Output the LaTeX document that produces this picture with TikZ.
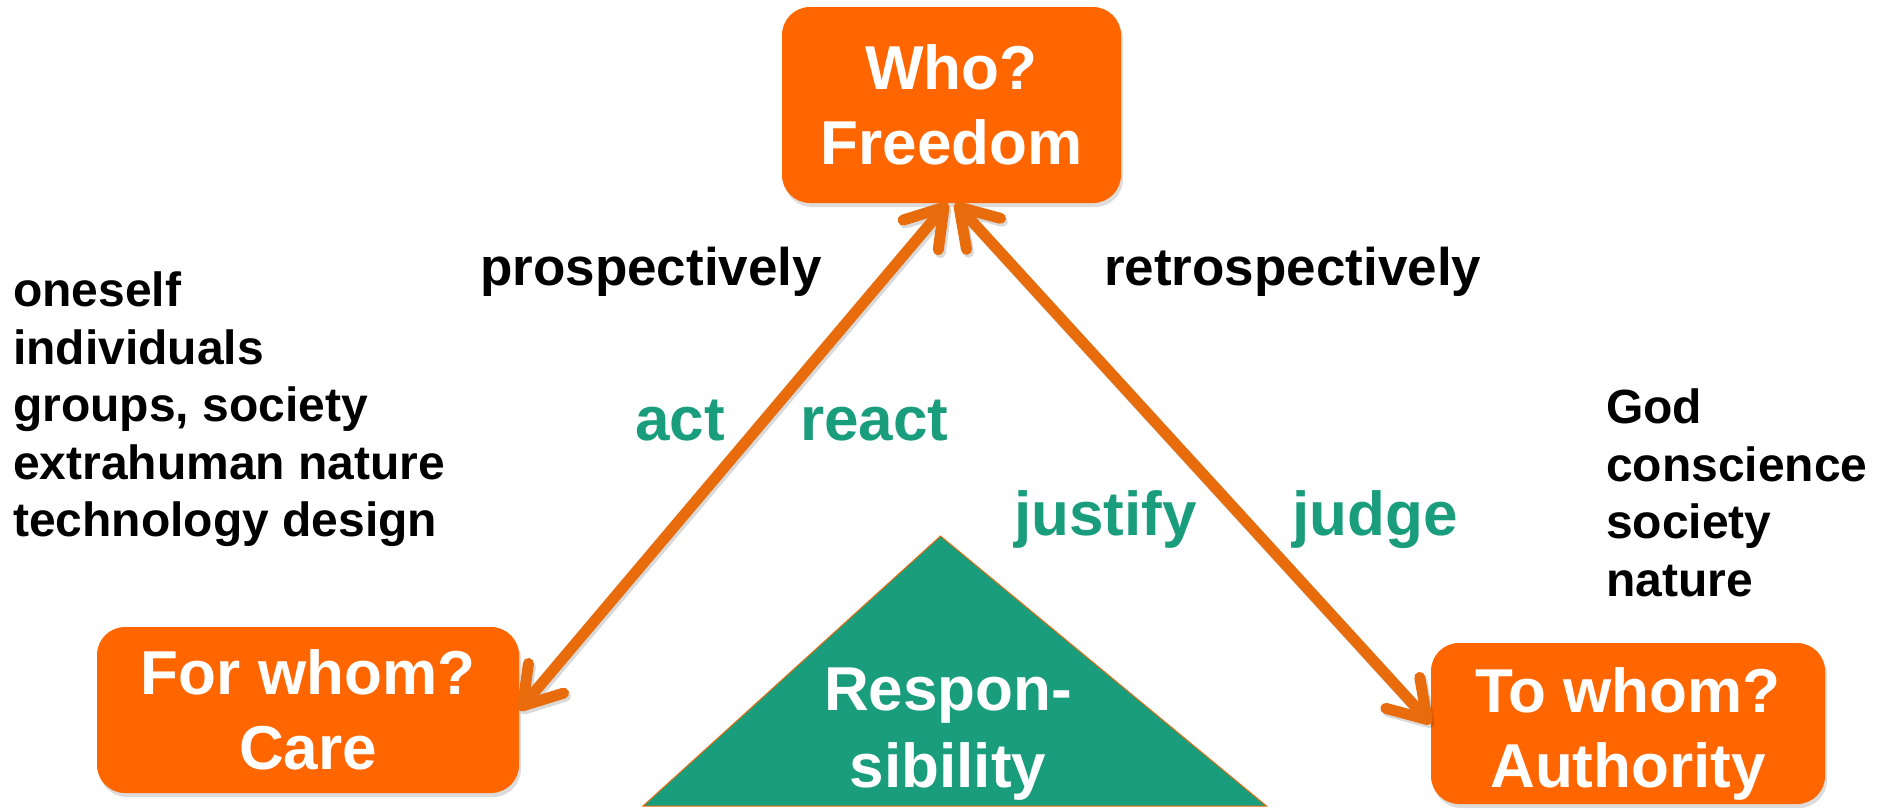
\documentclass[tikz,border=0pt]{standalone}
\usepackage{fontspec}
\setmainfont{Liberation Sans}
\usetikzlibrary{arrows.meta,shadows}

\definecolor{boxorange}{RGB}{255,102,0}
\definecolor{arroworange}{RGB}{232,108,12}
\definecolor{respgreen}{RGB}{26,157,124}

% last line of a box label without descender depth, first line with extra room
\newcommand{\nodepth}[1]{\raisebox{0pt}[\height][0pt]{#1}}
\newcommand{\tallfirst}[1]{\raisebox{0pt}[\dimexpr\height+8pt\relax]{#1}}

\begin{document}
\begin{tikzpicture}[x=1pt,y=-1pt,
  qbox/.style={fill=boxorange, rounded corners=28pt, text=white, align=center,
    inner sep=0pt, font=\bfseries\fontsize{62}{75}\selectfont,
    drop shadow={opacity=0.28, shadow xshift=2pt, shadow yshift=-4pt}},
  listtext/.style={align=left, inner sep=0pt, anchor=north west,
    font=\bfseries\fontsize{48}{57.5}\selectfont},
  timetext/.style={inner sep=0pt, anchor=base west, font=\bfseries\fontsize{53}{60}\selectfont},
  verbtext/.style={inner sep=0pt, anchor=base west, text=respgreen,
    font=\bfseries\fontsize{62}{70}\selectfont},
  resptext/.style={align=center, inner sep=0pt, text=white,
    font=\bfseries\fontsize{62}{77}\selectfont},
  link/.style={draw=arroworange, line width=11pt,
    {Straight Barb[length=36pt,width=46pt,round]}-{Straight Barb[length=36pt,width=46pt,round]}},
  linkshadow/.style={link, draw=black, draw opacity=0.15,
    transform canvas={xshift=2pt,yshift=-3pt}}]

\useasboundingbox (0,0) rectangle (1880,809);

% the three question boxes
\node[qbox, minimum width=339pt, minimum height=196pt] (who) at (951.5,105) {Who?\\Freedom};
\node[qbox, minimum width=422pt, minimum height=166pt] (care) at (308,710) {For whom?\\Care};
\node[qbox, minimum width=394pt, minimum height=161pt] (auth) at (1628,723.5) {\tallfirst{To whom?}\\\nodepth{Authority}};

% central triangle
\filldraw[fill=respgreen, draw=arroworange, line width=1pt]
  (940.5,536) -- (1266.5,806) -- (643,806) -- cycle;
\node[resptext] (resp) at (948,734) {Respon-\\sibility};

% double-headed links between the boxes
\draw[linkshadow] (care.east) -- ([xshift=-4pt]who.south);
\draw[linkshadow] ([xshift=4pt]who.south) -- (auth.west);
\draw[link] (care.east) -- ([xshift=-4pt]who.south);
\draw[link] ([xshift=4pt]who.south) -- (auth.west);

% labels along the links
\node[timetext] (prosp) at (480,285) {prospectively};
\node[timetext] (retro) at (1104,285) {retrospectively};
\node[verbtext] (act) at (635,440) {act};
\node[verbtext] (react) at (800,440) {react};
\node[verbtext] (justify) at (1014,535) {justify};
\node[verbtext] (judge) at (1292,535) {judge};

% side lists
\node[listtext] (forlist) at (13,272)
  {oneself\\individuals\\groups, society\\extrahuman nature\\technology design};
\node[listtext] (tolist) at (1606,389)
  {God\\conscience\\society\\nature};

\end{tikzpicture}
\end{document}
